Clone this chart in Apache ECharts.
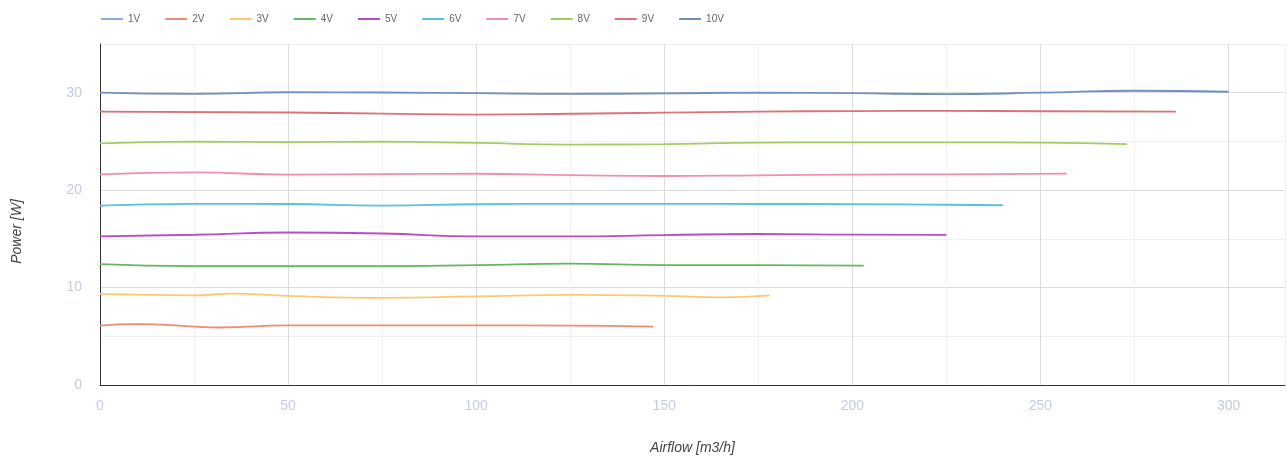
<!DOCTYPE html>
<html>
<head>
<meta charset="utf-8">
<script src="https://cdn.jsdelivr.net/npm/echarts@6/dist/echarts.min.js"></script>
<style>
html,body{margin:0;padding:0;background:#fff;}
#chart{width:1287px;height:461px;}
</style>
</head>
<body>
<div id="chart"></div>
<script>
// Series names
const seriesNames = ['1V','2V','3V','4V','5V','6V','7V','8V','9V','10V'];
// Airflow [m3/h] and Power [W] per series
const v1 = [];
const v2Airflow = [0, 10, 25, 32, 50, 75, 100, 125, 147];
const v2Power   = [6.1, 6.25, 6.0, 5.9, 6.12, 6.12, 6.12, 6.1, 6.0];
const v3Airflow = [0, 25, 35, 50, 75, 100, 125, 150, 165, 178];
const v3Power   = [9.35, 9.2, 9.38, 9.15, 8.95, 9.1, 9.25, 9.15, 9.0, 9.2];
const v4Airflow = [0, 25, 50, 75, 100, 125, 150, 175, 203];
const v4Power   = [12.4, 12.2, 12.2, 12.2, 12.3, 12.45, 12.3, 12.3, 12.25];
const v5Airflow = [0, 25, 50, 75, 100, 125, 150, 175, 200, 225];
const v5Power   = [15.25, 15.42, 15.65, 15.55, 15.25, 15.25, 15.38, 15.5, 15.43, 15.4];
const v6Airflow = [0, 25, 50, 75, 100, 125, 150, 175, 200, 225, 240];
const v6Power   = [18.42, 18.6, 18.58, 18.42, 18.55, 18.6, 18.6, 18.58, 18.57, 18.5, 18.45];
const v7Airflow = [0, 25, 50, 75, 100, 125, 150, 175, 200, 225, 257];
const v7Power   = [21.62, 21.82, 21.6, 21.65, 21.68, 21.55, 21.45, 21.52, 21.6, 21.62, 21.7];
const v8Airflow = [0, 25, 50, 75, 100, 125, 150, 175, 200, 225, 250, 273];
const v8Power   = [24.8, 24.97, 24.92, 24.97, 24.85, 24.68, 24.73, 24.88, 24.9, 24.9, 24.88, 24.72];
const v9Airflow = [0, 50, 75, 100, 125, 150, 175, 200, 225, 250, 286];
const v9Power   = [28.05, 27.97, 27.85, 27.76, 27.84, 27.95, 28.05, 28.12, 28.13, 28.1, 28.05];
const v10Airflow = [0, 25, 50, 75, 100, 125, 150, 175, 200, 225, 250, 275, 300];
const v10Power   = [30.0, 29.88, 30.05, 30.02, 29.95, 29.88, 29.93, 30.0, 29.95, 29.85, 30.0, 30.2, 30.1];

const colors = ['#8fa8e0','#ef8a75','#ffc870','#62b862','#b94cc2','#5bc0de','#f08fb0','#a2cc62','#d9727a','#6f92bd'];

function pairs(xs, ys){ return xs.map((x,i)=>[x, ys[i]]); }
const dataSets = [
  v1,
  pairs(v2Airflow, v2Power),
  pairs(v3Airflow, v3Power),
  pairs(v4Airflow, v4Power),
  pairs(v5Airflow, v5Power),
  pairs(v6Airflow, v6Power),
  pairs(v7Airflow, v7Power),
  pairs(v8Airflow, v8Power),
  pairs(v9Airflow, v9Power),
  pairs(v10Airflow, v10Power)
];

const chart = echarts.init(document.getElementById('chart'));
const labelColor = '#c5cce0';
chart.setOption({
  animation: false,
  color: colors,
  textStyle: {fontFamily: 'Liberation Sans, Arial, sans-serif'},
  legend: {
    left: 96, top: 9,
    itemWidth: 22, itemHeight: 10, itemGap: 25,
    icon: 'path://M0,4 L22,4 L22,6 L0,6 Z',
    textStyle: {fontSize: 10, color: '#666'},
    data: seriesNames
  },
  grid: {left: 100, right: 2, top: 44, bottom: 76, containLabel: false, outerBoundsMode: 'none'},
  xAxis: {
    type: 'value', min: 0, max: 315, interval: 25,
    name: 'Airflow [m3/h]', nameLocation: 'middle', nameGap: 56,
    nameTextStyle: {fontStyle: 'italic', fontSize: 14, color: '#444'},
    axisLine: {show: true, onZero: false, lineStyle: {color: '#333', width: 1}},
    axisTick: {show: false},
    axisLabel: {
      color: labelColor, fontSize: 14, margin: 14,
      showMaxLabel: false,
      formatter: v => (v % 50 === 0 ? String(v) : '')
    },
    splitLine: {show: true, lineStyle: {color: ['#dcdcdc', '#f0f0f0'], width: 1}}
  },
  yAxis: {
    type: 'value', min: 0, max: 35, interval: 5,
    name: 'Power [W]', nameLocation: 'middle', nameGap: 76, nameRotate: 90,
    nameTextStyle: {fontStyle: 'italic', fontSize: 14, color: '#444', padding: [0, 34, 0, 0]},
    axisLine: {show: true, lineStyle: {color: '#333', width: 1}},
    axisTick: {show: false},
    axisLabel: {
      color: labelColor, fontSize: 14, margin: 18,
      formatter: v => (v % 10 === 0 ? String(v) : '')
    },
    splitLine: {show: true, lineStyle: {color: ['#dcdcdc', '#f0f0f0'], width: 1}}
  },
  series: seriesNames.map((n, i) => ({
    name: n,
    type: 'line',
    smooth: true,
    symbol: 'none',
    lineStyle: {width: 1.8},
    data: dataSets[i]
  }))
});
</script>
</body>
</html>
